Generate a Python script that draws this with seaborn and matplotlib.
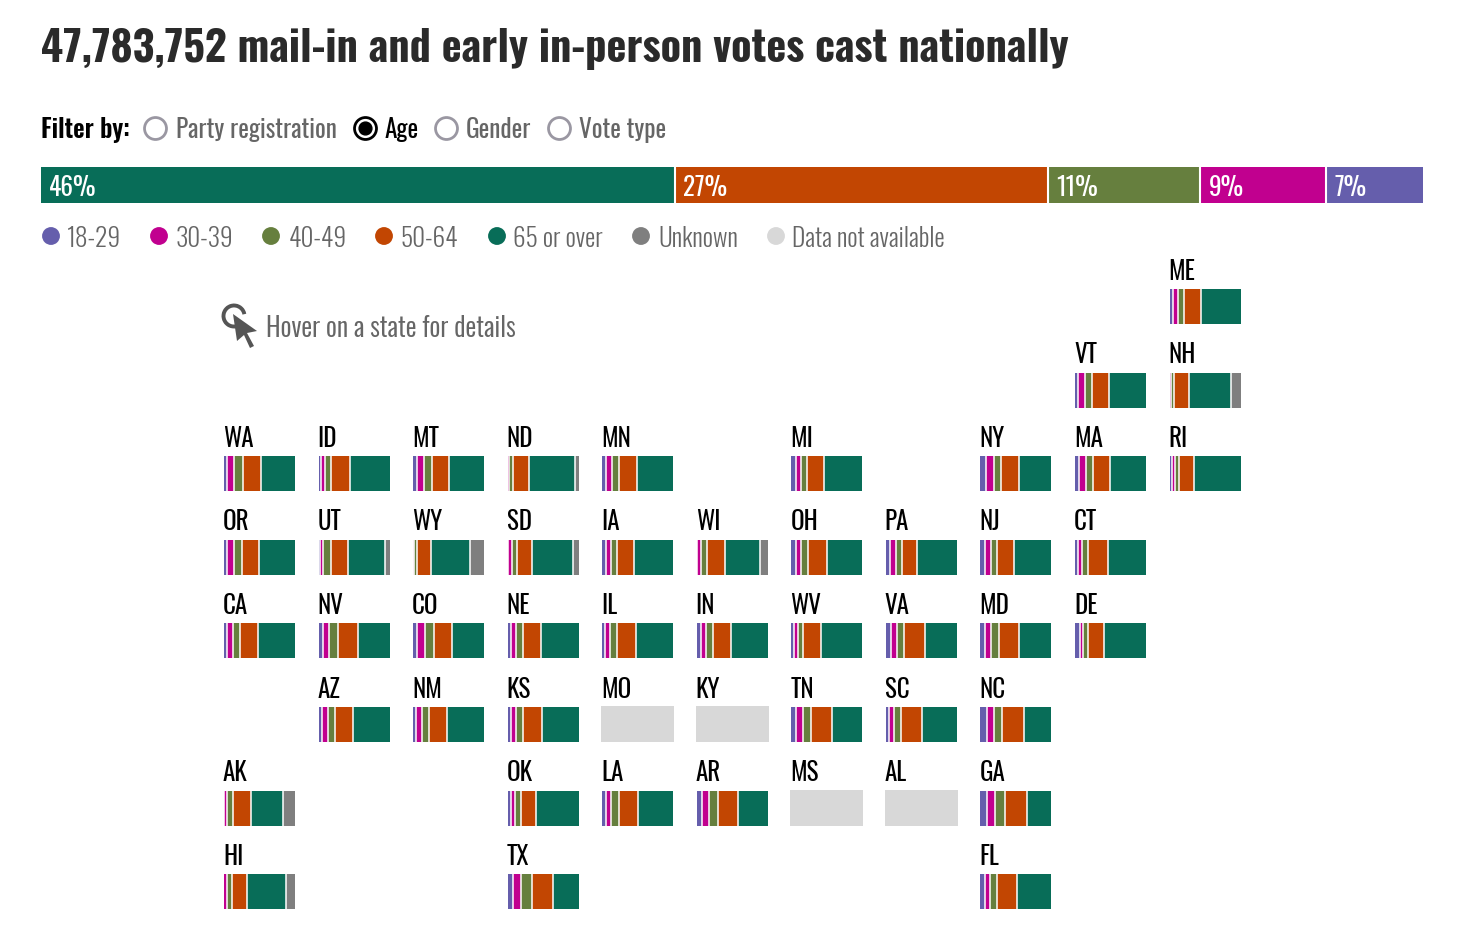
import numpy as np
import pandas as pd
import matplotlib
matplotlib.use("Agg")
import matplotlib.pyplot as plt
from matplotlib import font_manager as fm
from matplotlib.patches import Arc, Polygon
import seaborn as sns
from fontTools.ttLib import TTFont
from fontTools.varLib import instancer

nan = np.nan

age_groups = ["18-29", "30-39", "40-49", "50-64", "65 or over", "Unknown"]
age_colors = ["#655eac", "#c1008f", "#667f3e", "#c24602", "#086d58", "#7f7f7f"]
na_color = "#d8d8d8"

# national shares
national_groups = ["65 or over", "50-64", "40-49", "30-39", "18-29"]
national_pct = [45.9, 27, 11, 9.1, 7]

# state shares, same order everywhere
states = ["ME",
          "VT", "NH",
          "WA", "ID", "MT", "ND", "MN", "MI", "NY", "MA", "RI",
          "OR", "UT", "WY", "SD", "IA", "WI", "OH", "PA", "NJ", "CT",
          "CA", "NV", "CO", "NE", "IL", "IN", "WV", "VA", "MD", "DE",
          "AZ", "NM", "KS", "MO", "KY", "TN", "SC", "NC",
          "AK", "OK", "LA", "AR", "MS", "AL", "GA",
          "HI", "TX", "FL"]
age_18_29 = [5.5,
             5, 0,
             4, 3, 5, 0, 6, 7, 8.5, 6, 3,
             4, 1.5, .5, 1, 6, .5, 6, 6, 7, 4,
             4, 6, 6, 5, 4, 6.5, 4.5, 7, 6, 7,
             5, 4, 5, nan, nan, 7, 4, 9,
             .5, 5, 5, 7, nan, nan, 9,
             0, 7.5, 6]
age_30_39 = [7,
             8.5, 2.5,
             10, 6, 10, 2, 8, 7, 10, 9, 5,
             10, 5, 1, 5, 6, 5, 7, 8, 8, 6,
             8, 9, 11, 7, 7, 7, 4.5, 8, 8.5, 5,
             8, 8, 7, nan, nan, 9, 7, 10,
             4, 6, 8, 10, nan, nan, 11,
             4, 11, 8]
age_40_49 = [8.5,
             10, 3.5,
             13, 9, 11, 6, 10, 8.5, 10, 11, 5,
             11, 11, 4, 7, 9, 9, 10, 8.5, 9, 9,
             10, 12, 12.5, 10, 10, 9, 8, 11, 11, 6.5,
             10, 10, 10, nan, nan, 12, 10, 12,
             8, 8, 10, 12.5, nan, nan, 14.5,
             7, 15.5, 10]
age_50_64 = [24,
             25, 21,
             25, 26, 24, 22, 25, 24, 26, 24, 21,
             24, 24, 20, 21, 24, 25.5, 27, 22, 23, 27,
             26, 28, 25.5, 25, 26, 26, 25, 29, 29, 23,
             25, 26, 27, nan, nan, 30, 30, 30,
             25, 21, 28, 28, nan, nan, 31.5,
             22, 29, 28]
age_65_over = [55,
               51.5, 60,
               48, 56, 50, 65, 51, 53.5, 45.5, 50, 66,
               51, 52, 54, 58, 55, 49, 50, 55.5, 53, 54,
               52, 45, 45, 53, 53, 51.5, 58, 45, 45.5, 58.5,
               52, 52, 51, nan, nan, 42, 49, 39,
               46, 60, 49, 42.5, nan, nan, 34,
               54, 36.5, 48]
age_unknown = [0,
               0, 13,
               0, 0, 0, 5, 0, 0, 0, 0, 0,
               0, 6.5, 20.5, 8, 0, 11, 0, 0, 0, 0,
               0, 0, 0, 0, 0, 0, 0, 0, 0, 0,
               0, 0, 0, nan, nan, 0, 0, 0,
               16.5, 0, 0, 0, nan, nan, 0,
               13, 0, 0]

# where each state sits in the tile grid
tile_row = [0,
            1, 1,
            2, 2, 2, 2, 2, 2, 2, 2, 2,
            3, 3, 3, 3, 3, 3, 3, 3, 3, 3,
            4, 4, 4, 4, 4, 4, 4, 4, 4, 4,
            5, 5, 5, 5, 5, 5, 5, 5,
            6, 6, 6, 6, 6, 6, 6,
            7, 7, 7]
tile_col = [10,
            9, 10,
            0, 1, 2, 3, 4, 6, 8, 9, 10,
            0, 1, 2, 3, 4, 5, 6, 7, 8, 9,
            0, 1, 2, 3, 4, 5, 6, 7, 8, 9,
            1, 2, 3, 4, 5, 6, 7, 8,
            0, 3, 4, 5, 6, 7, 8,
            0, 3, 8]

df = pd.DataFrame({"state": states, "18-29": age_18_29, "30-39": age_30_39,
                   "40-49": age_40_49, "50-64": age_50_64,
                   "65 or over": age_65_over, "Unknown": age_unknown})

W, H = 1458, 934
sns.set_theme(style="white")
plt.rcParams["font.family"] = ["Oswald", "Roboto", "DejaVu Sans"]


# matplotlib only loads the default weight of a variable font, so cut the others out
def oswald(weight, size):
    path = f"oswald_{weight}.ttf"
    font = TTFont(fm.findfont("Oswald"))
    instancer.instantiateVariableFont(font, {"wght": weight}).save(path)
    return fm.FontProperties(fname=path, size=size)


fig = plt.figure(figsize=(W / 100, H / 100), dpi=100, facecolor="white")


def px_axes(x0, y0, w, h):
    ax = fig.add_axes([x0 / W, 1 - (y0 + h) / H, w / W, h / H])
    ax.axis("off")
    return ax


def stacked_bar(ax, label, groups, values, colors, lw=1.1):
    left = 0
    for g, v, c in zip(groups, values, colors):
        if v > 0:
            sns.barplot(x=[v], y=[label], orient="h", color=c, left=left, width=1.0,
                        saturation=1, linewidth=0, errorbar=None, ax=ax)
        left += v
    # white gaps between the segments
    for b in np.cumsum(values)[:-1]:
        if 0 < b < left:
            ax.axvline(b, color="white", lw=lw)
    ax.set_xlim(0, left)
    ax.set_ylim(0.5, -0.5)
    ax.axis("off")


# page level things, drawn in pixel coordinates
page = px_axes(0, 0, W, H)
page.set_xlim(0, W)
page.set_ylim(H, 0)

page.text(41, 62, "47,783,752 mail-in and early in-person votes cast nationally",
          fontproperties=oswald(700, 30.5), color="#2a2a2a", va="baseline", ha="left")

# filter row
page.text(41, 138, "Filter by:", fontproperties=oswald(600, 18), color="black", va="baseline")
radio_labels = ["Party registration", "Age", "Gender", "Vote type"]
radio_x = [155, 365, 446, 559]
radio_text_x = [176, 385, 466, 579]
for lab, rx, tx in zip(radio_labels, radio_x, radio_text_x):
    on = lab == "Age"
    page.scatter([rx], [128], s=250, facecolor="white", edgecolor="black" if on else "#9a97a2",
                 linewidth=2.0, zorder=3)
    if on:
        page.scatter([rx], [128], s=85, color="black", zorder=4)
    page.text(tx, 138, lab, fontsize=18.2, color="black" if on else "#666666", va="baseline")

# legend dots
light = oswald(300, 18.3)
legend_labels = age_groups + ["Data not available"]
legend_colors = age_colors + [na_color]
legend_x = [51, 159, 271, 384, 497, 641, 776]
legend_text_x = [67, 176, 289, 401, 513, 658, 792]
legend_df = pd.DataFrame({"x": legend_x, "y": [236] * 7, "lab": legend_labels})
sns.scatterplot(data=legend_df, x="x", y="y", hue="lab", palette=legend_colors, s=165,
                linewidth=0, legend=False, ax=page)
for lab, tx in zip(legend_labels, legend_text_x):
    page.text(tx, 247, lab, fontproperties=light, color="#666666", va="baseline")
page.set_xlim(0, W)
page.set_ylim(H, 0)
page.axis("off")

# hover hint with the cursor icon
page.add_patch(Arc((234, 316), 21, 21, theta1=60, theta2=350, color="#555555", lw=2.8))
page.add_patch(Polygon([(233, 314), (257, 331), (247, 333), (254, 346), (250, 348),
                        (244, 335), (237, 341)], closed=True, color="#555555", lw=0))
page.text(266, 337, "Hover on a state for details", fontproperties=oswald(350, 19), color="#666666",
          va="baseline")

# national bar
nat_ax = px_axes(41, 167, 1382, 36)
nat_colors = [age_colors[age_groups.index(g)] for g in national_groups]
stacked_bar(nat_ax, "US", national_groups, national_pct, nat_colors, lw=1.5)
left = 0
for v in national_pct:
    page.text(41 + left * 13.82 + 8, 196, f"{v:.0f}%", fontsize=18.2, color="white", va="baseline",
              zorder=5)
    left += v
page.set_zorder(5)
page.patch.set_alpha(0)

# state tiles
col_x = 224
col_step = 94.55
row_y = 289
row_step = 83.6
for i, st in enumerate(states):
    x0 = col_x + tile_col[i] * col_step
    y0 = row_y + tile_row[i] * row_step
    page.text(x0 - 1, y0 - 9.5, st, fontsize=18, color="black", va="baseline")
    row = df.loc[i, age_groups]
    if row.isna().any():
        page.add_patch(plt.Rectangle((x0 - 1, y0 - 1), 73, 36, color=na_color, lw=0))
        continue
    ax = px_axes(x0, y0, 71, 35)
    stacked_bar(ax, st, age_groups, [float(v) for v in row], age_colors)

fig.savefig("out.png", dpi=100)
